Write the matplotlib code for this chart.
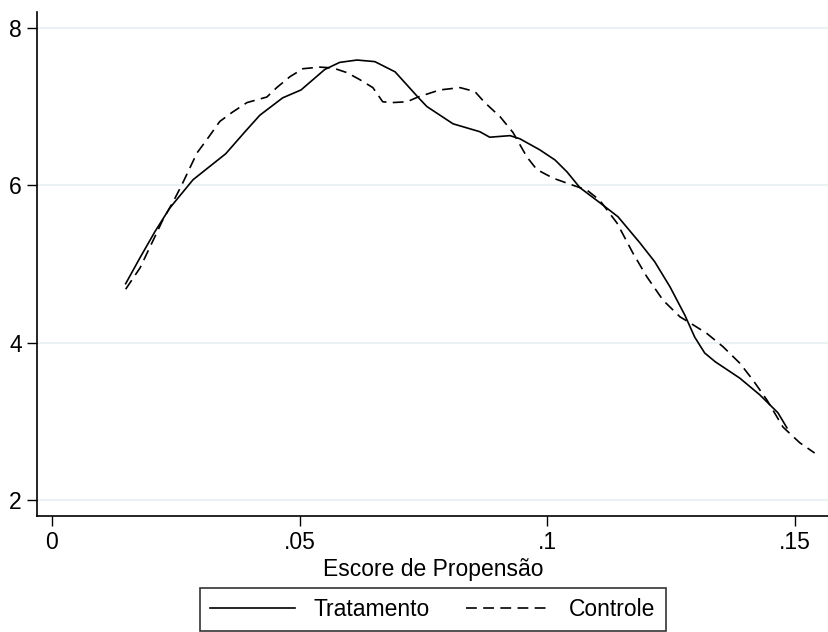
import numpy as np
import matplotlib.pyplot as plt

plt.rcParams['font.family'] = ['Liberation Sans', 'DejaVu Sans']

# Tratamento (solid)
trat_x = [0.0149, 0.0178, 0.0208, 0.0238, 0.0285, 0.0351, 0.0390, 0.0420, 0.0466,
          0.0503, 0.0551, 0.0581, 0.0616, 0.0652, 0.0693, 0.0739, 0.0757, 0.0810,
          0.0864, 0.0884, 0.0925, 0.0945, 0.0985, 0.1016, 0.1040, 0.1066, 0.1106,
          0.1143, 0.1187, 0.1217, 0.1248, 0.1278, 0.1298, 0.1318, 0.1339, 0.1389,
          0.1429, 0.1466, 0.1484]
trat_y = [4.75, 5.08, 5.41, 5.71, 6.07, 6.40, 6.68, 6.89, 7.11,
          7.21, 7.47, 7.56, 7.59, 7.57, 7.44, 7.12, 7.00, 6.78,
          6.68, 6.61, 6.63, 6.59, 6.45, 6.32, 6.17, 5.97, 5.78,
          5.60, 5.27, 5.03, 4.71, 4.35, 4.07, 3.87, 3.76, 3.55,
          3.34, 3.11, 2.92]

# Controle (dashed)
ctrl_x = [0.0149, 0.0178, 0.0212, 0.0224, 0.0244, 0.0262, 0.0293, 0.0313, 0.0339,
          0.0365, 0.0394, 0.0434, 0.0454, 0.0481, 0.0507, 0.0541, 0.0567, 0.0596,
          0.0622, 0.0648, 0.0668, 0.0688, 0.0717, 0.0739, 0.0783, 0.0824, 0.0854,
          0.0874, 0.0905, 0.0931, 0.0959, 0.0979, 0.1012, 0.1052, 0.1080, 0.1106,
          0.1141, 0.1173, 0.1201, 0.1234, 0.1268, 0.1294, 0.1322, 0.1355, 0.1389,
          0.1415, 0.1444, 0.1476, 0.1510, 0.1540]
ctrl_y = [4.68, 4.95, 5.40, 5.56, 5.78, 6.00, 6.41, 6.58, 6.81,
          6.93, 7.05, 7.12, 7.24, 7.38, 7.48, 7.50, 7.49, 7.43,
          7.34, 7.24, 7.06, 7.05, 7.06, 7.12, 7.21, 7.24, 7.19,
          7.05, 6.87, 6.67, 6.36, 6.20, 6.09, 6.00, 5.94, 5.81,
          5.52, 5.14, 4.84, 4.54, 4.33, 4.23, 4.12, 3.95, 3.74,
          3.53, 3.27, 2.93, 2.73, 2.60]

xticks = [0, 0.05, 0.1, 0.15]
xtick_labels = ['0', '.05', '.1', '.15']
yticks = [2, 4, 6, 8]

fs = 16.5

fig = plt.figure(figsize=(8.29, 6.32), dpi=100)
ax = fig.add_axes([37 / 829, 1 - 516 / 632, 1 - 37 / 829, (516 - 12) / 632])

# light horizontal grid like stata's s2color scheme
for yv in yticks:
    ax.axhline(yv, color='#eaf2f3', lw=1.5, zorder=0)

ax.plot(trat_x, trat_y, color='black', lw=1.2, label='Tratamento')
ax.plot(ctrl_x, ctrl_y, color='black', lw=1.2, dashes=(6.5, 3.8), label='Controle')

ax.set_xlim(-0.003, 0.1569)
ax.set_ylim(1.8, 8.2)
ax.set_xticks(xticks)
ax.set_xticklabels(xtick_labels)
ax.set_yticks(yticks)
ax.tick_params(direction='out', length=7, width=1, labelsize=fs, pad=4)

for s in ['top', 'right']:
    ax.spines[s].set_visible(False)
ax.spines['left'].set_linewidth(1.2)
ax.spines['bottom'].set_linewidth(1.2)

ax.set_xlabel('Escore de Propensão', fontsize=fs, labelpad=3)

leg = fig.legend(loc='lower center', bbox_to_anchor=(0.522, -0.017), ncol=2,
                 frameon=True, fancybox=False, fontsize=fs, handlelength=3.7,
                 handletextpad=0.8, columnspacing=1.6, borderpad=0.45)
leg.get_frame().set_edgecolor('black')
leg.get_frame().set_linewidth(1.2)

fig.savefig('out.png', dpi=100)
